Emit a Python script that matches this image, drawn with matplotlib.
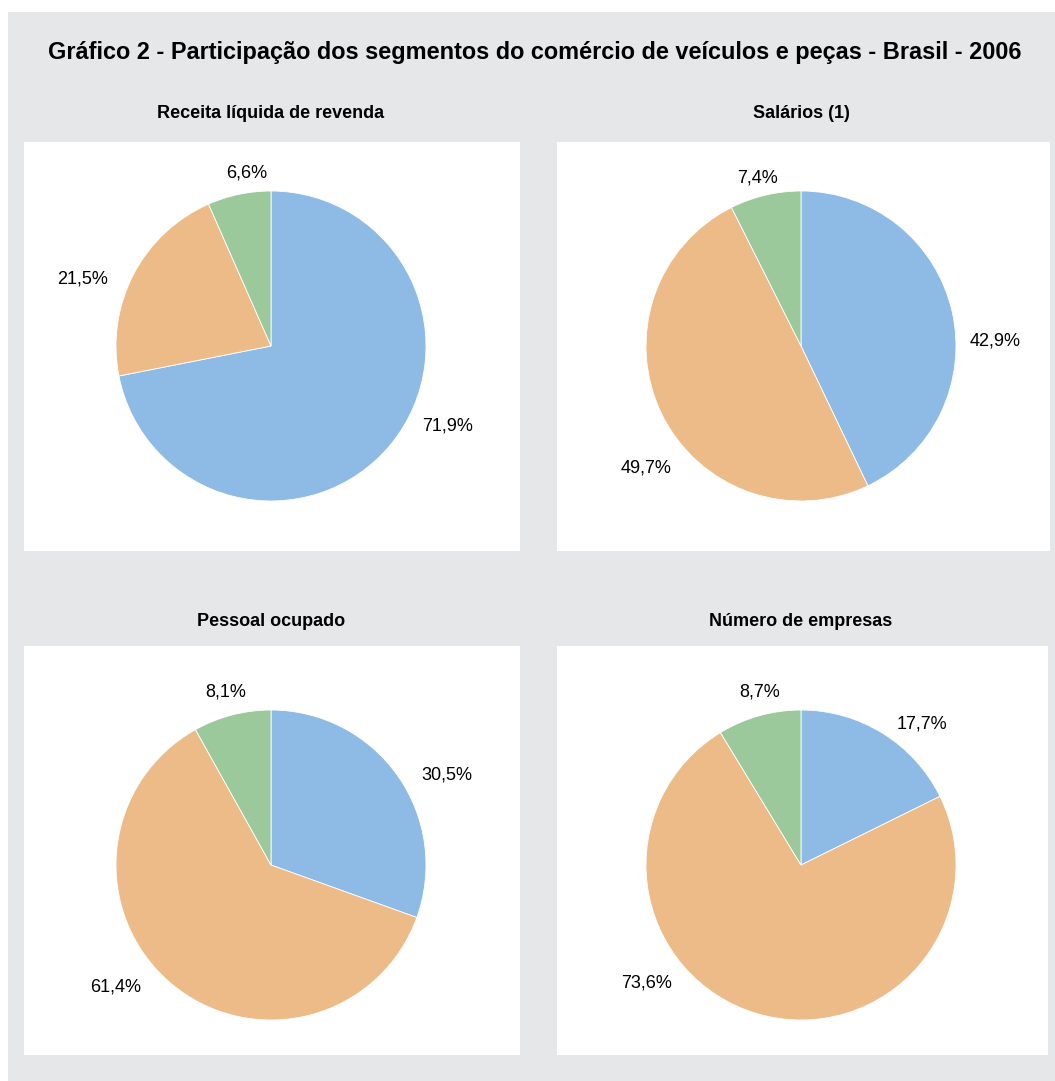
import matplotlib.pyplot as plt
from matplotlib.patches import Rectangle

# data: shares of each segment (blue, orange, green), start at 12 o'clock clockwise
titles = ["Receita líquida de revenda", "Salários (1)", "Pessoal ocupado", "Número de empresas"]
receita = [71.9, 21.5, 6.6]
salarios = [42.9, 49.7, 7.4]
pessoal = [30.5, 61.4, 8.1]
empresas = [17.7, 73.6, 8.7]
series = [receita, salarios, pessoal, empresas]
colors = ["#8ebbe6", "#ecbb88", "#9bc99c"]

# layout (pixels, top-left origin)
W, H = 1055, 1081
R = 155
centers = [(271, 346), (801, 346), (271, 865), (801, 865)]
boxes = [(24, 142, 520, 551), (557, 142, 1050, 551), (24, 646, 520, 1055), (557, 646, 1048, 1055)]
subtitle_y = [114, 114, 621, 621]
# label offsets from pie centre, pixels (dx right, dy down)
label_offsets = [
    [(177, 80), (-188, -67), (-24, -173)],
    [(194, -5), (-155, 122), (-43, -168)],
    [(176, -90), (-155, 122), (-45, -173)],
    [(121, -141), (-154, 118), (-41, -173)],
]
GRAY = "#e6e7e8"

fig = plt.figure(figsize=(W / 100, H / 100), dpi=100)
fig.patch.set_facecolor("white")

bg = fig.add_axes([0, 0, 1, 1])
bg.set_xlim(0, W)
bg.set_ylim(H, 0)
bg.axis("off")
bg.add_patch(Rectangle((8, 12), W - 8, H - 12, facecolor=GRAY, edgecolor="none"))
for x0, y0, x1, y1 in boxes:
    bg.add_patch(Rectangle((x0, y0), x1 - x0, y1 - y0, facecolor="white", edgecolor="none"))

font = ["Liberation Sans", "DejaVu Sans"]
bg.text(535, 53, "Gráfico 2 - Participação dos segmentos do comércio de veículos e peças - Brasil - 2006",
        ha="center", va="center", fontsize=16.9, fontweight="bold", family=font)

for i, vals in enumerate(series):
    cx, cy = centers[i]
    bg.text(cx, subtitle_y[i], titles[i], ha="center", va="center",
            fontsize=13, fontweight="bold", family=font)
    ax = fig.add_axes([(cx - R) / W, 1 - (cy + R) / H, 2 * R / W, 2 * R / H])
    ax.pie(vals, colors=colors, startangle=90, counterclock=False, radius=1,
           wedgeprops=dict(edgecolor="white", linewidth=0.6))
    ax.set_xlim(-1, 1)
    ax.set_ylim(-1, 1)
    ax.set_aspect("equal")
    ax.axis("off")
    for v, (dx, dy) in zip(vals, label_offsets[i]):
        ax.text(dx / R, -dy / R, f"{v:.1f}%".replace(".", ","), ha="center", va="center",
                fontsize=13, family=font, clip_on=False)

fig.savefig("out.png", dpi=100, facecolor="white")
